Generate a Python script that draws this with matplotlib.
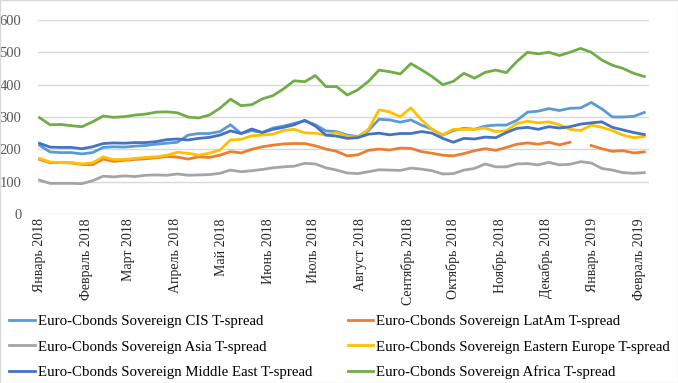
import matplotlib
matplotlib.use("Agg")
import matplotlib.pyplot as plt
import numpy as np
import pandas as pd

plt.rcParams["font.family"] = ["Liberation Serif", "DejaVu Serif"]

# weekly observations, Jan 2018 - Feb 2019
dates = pd.date_range("2018-01-01", periods=58, freq="7D")

cis = [213, 192, 190, 190, 186, 190, 206, 208, 207, 210, 212, 216, 219, 222, 244,
       249, 249, 255, 276, 249, 258, 252, 266, 272, 280, 288, 276, 257, 255, 244,
       240, 258, 293, 291, 284, 291, 275, 262, 244, 258, 265, 262, 272, 275, 275,
       290, 315, 318, 326, 320, 327, 328, 345, 325, 300, 300, 302, 314]
latam = [169, 159, 159, 158, 153, 153, 170, 163, 166, 169, 171, 174, 178, 176, 170,
         177, 175, 182, 193, 189, 200, 208, 213, 217, 218, 218, 211, 201, 194, 180,
         183, 197, 201, 198, 204, 203, 193, 188, 182, 180, 187, 196, 202, 197, 206,
         216, 220, 216, 222, 214, 222, np.nan, 212, 202, 194, 196, 189, 192]
asia = [105, 95, 95, 95, 94, 103, 117, 115, 118, 116, 120, 121, 120, 124, 120,
        121, 122, 126, 136, 131, 134, 138, 143, 146, 148, 157, 155, 143, 136, 127,
        125, 131, 137, 136, 135, 142, 139, 134, 124, 125, 136, 141, 155, 146, 146,
        155, 156, 152, 160, 152, 154, 162, 158, 141, 136, 128, 126, 128]
east_europe = [172, 161, 159, 159, 155, 158, 177, 168, 169, 172, 175, 177, 182, 191, 188,
               182, 188, 198, 229, 231, 242, 244, 247, 258, 262, 251, 250, 244, 252, 240,
               238, 262, 322, 316, 301, 328, 291, 262, 245, 262, 262, 262, 266, 255, 258,
               280, 287, 282, 285, 276, 262, 258, 275, 268, 258, 244, 236, 240]
middle_east = [219, 207, 206, 206, 202, 208, 218, 220, 219, 221, 221, 224, 230, 232, 229,
               234, 237, 244, 257, 249, 263, 252, 262, 268, 276, 290, 272, 244, 241, 234,
               236, 247, 250, 245, 249, 249, 255, 250, 234, 222, 234, 232, 238, 236, 252,
               265, 268, 262, 270, 266, 270, 278, 282, 285, 268, 260, 252, 246]
africa = [298, 276, 277, 273, 270, 285, 303, 299, 301, 306, 309, 315, 316, 313, 300,
          297, 306, 327, 355, 335, 338, 356, 366, 387, 412, 409, 428, 394, 394, 368,
          384, 410, 445, 440, 433, 465, 446, 425, 400, 410, 435, 420, 438, 445, 437,
          472, 500, 495, 500, 490, 500, 512, 500, 476, 460, 450, 435, 425]

names = ["CIS", "LatAm", "Asia", "Eastern Europe", "Middle East", "Africa"]
colors = ["#5B9BD5", "#ED7D31", "#A5A5A5", "#FFC000", "#4472C4", "#70AD47"]
series = [cis, latam, asia, east_europe, middle_east, africa]

months = ["Январь", "Февраль", "Март", "Апрель", "Май", "Июнь", "Июль", "Август",
          "Сентябрь", "Октябрь", "Ноябрь", "Декабрь"]
tick_dates = pd.date_range("2018-01-01", "2019-02-01", freq="MS")
tick_labels = [f"{months[d.month - 1]} {d.year}" for d in tick_dates]

fig = plt.figure(figsize=(6.78, 3.83), dpi=100)
ax = fig.add_axes([0.056, 0.441, 0.901, 0.507])

lines = {}
for name, col, vals in zip(names, colors, series):
    ln, = ax.plot(dates, vals, color=col, lw=2.0,
                  label=f"Euro-Cbonds Sovereign {name} T-spread")
    lines[name] = ln

ax.set_ylim(0, 600)
ax.set_yticks(range(0, 601, 100))
ax.set_xlim(pd.Timestamp("2017-12-31"), pd.Timestamp("2019-02-07"))
ax.set_xticks(tick_dates)
ax.set_xticklabels(tick_labels, rotation=90, fontsize=10, color="#262626")
ax.tick_params(axis="y", labelsize=10.5, colors="#595959", length=0, pad=12)
ax.tick_params(axis="x", length=0, pad=3)
ax.grid(axis="y", color="#D9D9D9", lw=1)
ax.set_axisbelow(True)
for s in ax.spines.values():
    s.set_visible(False)

# two legend columns placed separately
leg_kw = dict(loc="upper left", frameon=False, fontsize=10.7, handlelength=1.7,
              handletextpad=0.2, labelspacing=0.8, borderpad=0, borderaxespad=0)
left_col = ["CIS", "Asia", "Middle East"]
right_col = ["LatAm", "Eastern Europe", "Africa"]
fig.legend([lines[n] for n in left_col], [lines[n].get_label() for n in left_col],
           bbox_to_anchor=(0.014, 0.178), **leg_kw)
fig.legend([lines[n] for n in right_col], [lines[n].get_label() for n in right_col],
           bbox_to_anchor=(0.513, 0.178), **leg_kw)

fig.patches.append(plt.Rectangle((0, 0), 1, 1, transform=fig.transFigure,
                                 fill=False, edgecolor="#D9D9D9", lw=1))
fig.savefig("out.png", dpi=100)
